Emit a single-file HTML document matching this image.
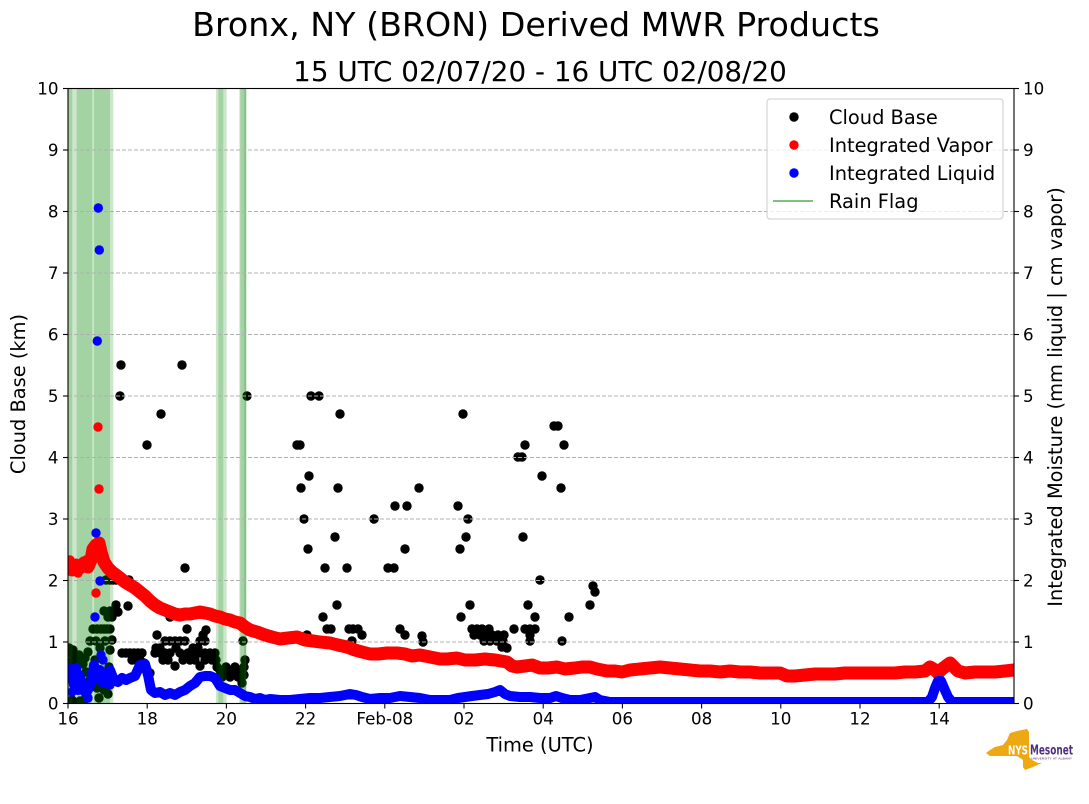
<!DOCTYPE html>
<html><head><meta charset="utf-8"><style>html,body{margin:0;padding:0;background:#fff}svg{display:block}</style></head>
<body>
<svg width="1089" height="804" viewBox="0 0 1089 804" xmlns="http://www.w3.org/2000/svg" font-family="'DejaVu Sans','Liberation Sans',sans-serif">
<defs><clipPath id="pa"><rect x="68" y="88.5" width="946" height="615"/></clipPath></defs>
<rect width="1089" height="804" fill="#fff"/>

<!-- Titles -->
<text x="536" y="36" text-anchor="middle" font-size="33.3" fill="#000">Bronx, NY (BRON) Derived MWR Products</text>
<text x="540" y="81" text-anchor="middle" font-size="27.8" fill="#000">15 UTC 02/07/20 - 16 UTC 02/08/20</text>

<g clip-path="url(#pa)">
<!-- Cloud base points -->
<g fill="#000">
<circle cx="69" cy="648" r="4.7"/><circle cx="71" cy="653" r="4.7"/><circle cx="73" cy="650" r="4.7"/><circle cx="75" cy="656" r="4.7"/><circle cx="77" cy="660" r="4.7"/><circle cx="79" cy="655" r="4.7"/><circle cx="81" cy="660" r="4.7"/><circle cx="70" cy="662" r="4.7"/><circle cx="74" cy="666" r="4.7"/><circle cx="83" cy="664" r="4.7"/><circle cx="85" cy="658" r="4.7"/><circle cx="88" cy="652" r="4.7"/>
<circle cx="72" cy="700" r="4.7"/><circle cx="76" cy="703" r="4.7"/><circle cx="80" cy="701" r="4.7"/><circle cx="84" cy="700" r="4.7"/>
<circle cx="90" cy="641" r="4.7"/><circle cx="93" cy="629" r="4.7"/><circle cx="97" cy="629" r="4.7"/><circle cx="101" cy="629" r="4.7"/><circle cx="104" cy="629" r="4.7"/><circle cx="107" cy="629" r="4.7"/><circle cx="110" cy="629" r="4.7"/><circle cx="96" cy="641" r="4.7"/><circle cx="105" cy="641" r="4.7"/>
<circle cx="104" cy="611" r="4.7"/><circle cx="108" cy="617" r="4.7"/><circle cx="112" cy="617" r="4.7"/><circle cx="110" cy="611" r="4.7"/>
<circle cx="106" cy="580" r="4.7"/><circle cx="110" cy="580" r="4.7"/><circle cx="113" cy="580" r="4.7"/>
<circle cx="97" cy="688" r="4.7"/><circle cx="100" cy="685" r="4.7"/><circle cx="104" cy="690" r="4.7"/><circle cx="108" cy="694" r="4.7"/><circle cx="99" cy="698" r="4.7"/><circle cx="86" cy="672" r="4.7"/><circle cx="90" cy="680" r="4.7"/><circle cx="95" cy="660" r="4.7"/><circle cx="100" cy="648" r="4.7"/><circle cx="110" cy="650" r="4.7"/><circle cx="112" cy="640" r="4.7"/><circle cx="109" cy="667" r="4.7"/>
<circle cx="116" cy="580" r="4.7"/><circle cx="120" cy="580" r="4.7"/><circle cx="125" cy="580" r="4.7"/><circle cx="129" cy="580" r="4.7"/>
<circle cx="118" cy="612" r="4.7"/><circle cx="116" cy="605" r="4.7"/><circle cx="128" cy="606" r="4.7"/>
<circle cx="120" cy="396" r="4.7"/><circle cx="121" cy="365" r="4.7"/><circle cx="147" cy="445" r="4.7"/><circle cx="161" cy="414" r="4.7"/><circle cx="182" cy="365" r="4.7"/><circle cx="185" cy="568" r="4.7"/>
<circle cx="122" cy="653" r="4.7"/><circle cx="126" cy="653" r="4.7"/><circle cx="130" cy="653" r="4.7"/><circle cx="134" cy="653" r="4.7"/><circle cx="138" cy="653" r="4.7"/><circle cx="142" cy="653" r="4.7"/>
<circle cx="132" cy="660" r="4.7"/><circle cx="136" cy="660" r="4.7"/><circle cx="140" cy="660" r="4.7"/><circle cx="144" cy="663" r="4.7"/><circle cx="143" cy="667" r="4.7"/><circle cx="147" cy="670" r="4.7"/><circle cx="150" cy="673" r="4.7"/>
<circle cx="157" cy="635" r="4.7"/><circle cx="170" cy="617" r="4.7"/>
<circle cx="165" cy="641" r="4.7"/><circle cx="170" cy="641" r="4.7"/><circle cx="175" cy="641" r="4.7"/><circle cx="180" cy="641" r="4.7"/><circle cx="185" cy="641" r="4.7"/><circle cx="200" cy="641" r="4.7"/><circle cx="205" cy="641" r="4.7"/>
<circle cx="156" cy="648" r="4.7"/><circle cx="160" cy="648" r="4.7"/><circle cx="176" cy="648" r="4.7"/><circle cx="193" cy="648" r="4.7"/><circle cx="198" cy="648" r="4.7"/>
<circle cx="155" cy="653" r="4.7"/><circle cx="160" cy="653" r="4.7"/><circle cx="165" cy="653" r="4.7"/><circle cx="170" cy="653" r="4.7"/><circle cx="180" cy="653" r="4.7"/><circle cx="188" cy="653" r="4.7"/><circle cx="192" cy="653" r="4.7"/><circle cx="200" cy="653" r="4.7"/><circle cx="205" cy="653" r="4.7"/><circle cx="210" cy="653" r="4.7"/><circle cx="215" cy="653" r="4.7"/>
<circle cx="163" cy="660" r="4.7"/><circle cx="168" cy="660" r="4.7"/><circle cx="183" cy="660" r="4.7"/><circle cx="190" cy="660" r="4.7"/><circle cx="195" cy="660" r="4.7"/><circle cx="205" cy="660" r="4.7"/><circle cx="212" cy="660" r="4.7"/><circle cx="216" cy="660" r="4.7"/>
<circle cx="175" cy="666" r="4.7"/><circle cx="200" cy="666" r="4.7"/>
<circle cx="187" cy="629" r="4.7"/><circle cx="203" cy="635" r="4.7"/><circle cx="206" cy="630" r="4.7"/>
<circle cx="217" cy="667" r="4.7"/><circle cx="220" cy="670" r="4.7"/><circle cx="223" cy="673" r="4.7"/><circle cx="226" cy="667" r="4.7"/><circle cx="229" cy="670" r="4.7"/><circle cx="232" cy="673" r="4.7"/><circle cx="235" cy="667" r="4.7"/><circle cx="238" cy="670" r="4.7"/><circle cx="241" cy="673" r="4.7"/><circle cx="222" cy="677" r="4.7"/><circle cx="230" cy="677" r="4.7"/><circle cx="238" cy="677" r="4.7"/><circle cx="244" cy="667" r="4.7"/><circle cx="244" cy="675" r="4.7"/><circle cx="242" cy="683" r="4.7"/><circle cx="243" cy="641" r="4.7"/><circle cx="245" cy="660" r="4.7"/>
<circle cx="247" cy="396" r="4.7"/>
<circle cx="297" cy="445" r="4.7"/><circle cx="300" cy="445" r="4.7"/><circle cx="301" cy="488" r="4.7"/><circle cx="304" cy="519" r="4.7"/><circle cx="308" cy="549" r="4.7"/><circle cx="309" cy="476" r="4.7"/><circle cx="311" cy="396" r="4.7"/><circle cx="319" cy="396" r="4.7"/><circle cx="340" cy="414" r="4.7"/><circle cx="338" cy="488" r="4.7"/><circle cx="335" cy="537" r="4.7"/><circle cx="325" cy="568" r="4.7"/><circle cx="347" cy="568" r="4.7"/><circle cx="337" cy="605" r="4.7"/><circle cx="323" cy="617" r="4.7"/><circle cx="327" cy="629" r="4.7"/><circle cx="331" cy="629" r="4.7"/><circle cx="349" cy="629" r="4.7"/><circle cx="353" cy="629" r="4.7"/><circle cx="358" cy="629" r="4.7"/><circle cx="362" cy="635" r="4.7"/><circle cx="352" cy="641" r="4.7"/><circle cx="307" cy="635" r="4.7"/>
<circle cx="374" cy="519" r="4.7"/><circle cx="388" cy="568" r="4.7"/><circle cx="394" cy="568" r="4.7"/><circle cx="395" cy="506" r="4.7"/><circle cx="407" cy="506" r="4.7"/><circle cx="405" cy="549" r="4.7"/><circle cx="419" cy="488" r="4.7"/><circle cx="400" cy="629" r="4.7"/><circle cx="405" cy="635" r="4.7"/><circle cx="422" cy="636" r="4.7"/><circle cx="423" cy="642" r="4.7"/>
<circle cx="463" cy="414" r="4.7"/><circle cx="458" cy="506" r="4.7"/><circle cx="468" cy="519" r="4.7"/><circle cx="466" cy="537" r="4.7"/><circle cx="460" cy="549" r="4.7"/><circle cx="470" cy="605" r="4.7"/><circle cx="461" cy="617" r="4.7"/>
<circle cx="472" cy="629" r="4.7"/><circle cx="477" cy="629" r="4.7"/><circle cx="482" cy="629" r="4.7"/><circle cx="489" cy="629" r="4.7"/><circle cx="474" cy="635" r="4.7"/><circle cx="480" cy="635" r="4.7"/><circle cx="486" cy="635" r="4.7"/><circle cx="492" cy="635" r="4.7"/><circle cx="498" cy="635" r="4.7"/><circle cx="504" cy="635" r="4.7"/><circle cx="484" cy="641" r="4.7"/><circle cx="490" cy="641" r="4.7"/><circle cx="497" cy="641" r="4.7"/><circle cx="503" cy="641" r="4.7"/><circle cx="507" cy="648" r="4.7"/><circle cx="502" cy="647" r="4.7"/>
<circle cx="514" cy="629" r="4.7"/><circle cx="525" cy="629" r="4.7"/><circle cx="530" cy="629" r="4.7"/><circle cx="535" cy="629" r="4.7"/><circle cx="530" cy="635" r="4.7"/><circle cx="530" cy="641" r="4.7"/>
<circle cx="518" cy="457" r="4.7"/><circle cx="522" cy="457" r="4.7"/><circle cx="525" cy="445" r="4.7"/><circle cx="523" cy="537" r="4.7"/><circle cx="542" cy="476" r="4.7"/><circle cx="540" cy="580" r="4.7"/><circle cx="528" cy="605" r="4.7"/><circle cx="535" cy="617" r="4.7"/><circle cx="554" cy="426" r="4.7"/><circle cx="558" cy="426" r="4.7"/><circle cx="564" cy="445" r="4.7"/><circle cx="561" cy="488" r="4.7"/><circle cx="569" cy="617" r="4.7"/><circle cx="562" cy="641" r="4.7"/><circle cx="590" cy="605" r="4.7"/><circle cx="593" cy="586" r="4.7"/><circle cx="595" cy="592" r="4.7"/>
</g>

<!-- Rain flag spans -->
<g fill="rgb(0,128,0)" fill-opacity="0.2">
<rect x="68" y="88.5" width="45.3" height="615"/>
<rect x="68" y="88.5" width="4.3" height="615"/>
<rect x="76.7" y="88.5" width="15.6" height="615"/>
<rect x="94" y="88.5" width="16" height="615"/>
<rect x="216" y="88.5" width="10.7" height="615"/>
<rect x="218.3" y="88.5" width="5" height="615"/>
<rect x="239.3" y="88.5" width="7.4" height="615"/>
<rect x="240.3" y="88.5" width="5.7" height="615"/>
<rect x="244.3" y="88.5" width="1.7" height="615"/>
</g>

<!-- Grid -->
<g stroke="#b0b0b0" stroke-width="1" stroke-dasharray="4,2">
<line x1="68" y1="642" x2="1014" y2="642"/><line x1="68" y1="580.5" x2="1014" y2="580.5"/><line x1="68" y1="519" x2="1014" y2="519"/><line x1="68" y1="457.5" x2="1014" y2="457.5"/><line x1="68" y1="396" x2="1014" y2="396"/><line x1="68" y1="334.5" x2="1014" y2="334.5"/><line x1="68" y1="273" x2="1014" y2="273"/><line x1="68" y1="211.5" x2="1014" y2="211.5"/><line x1="68" y1="150" x2="1014" y2="150"/>
</g>

<!-- Integrated vapor -->
<polyline fill="none" stroke="#ff0000" stroke-width="13" stroke-linejoin="round" stroke-linecap="round" points="68,566 72,570 76,565 80,568 84,563 88,567 91,560 93,549 96,545 99,543 101,552 104,562 108,568 112,572 116,575 120,578 125,582 130,585 135,588 140,592 145,596 150,601 155,605 160,608 165,610 170,612 175,614 180,615 185,614 190,614 195,613 200,612 205,613 210,614 215,616 220,617 225,619 230,620 235,622 240,623 245,627 250,630 257,632 265,635 272,637 280,639 288,638 297,637 305,640 313,641 320,642 330,643 338,645 347,647 355,650 362,652 370,654 378,654 387,653 397,653 405,654 412,656 420,655 430,657 440,659 447,659 457,658 465,660 475,660 485,659 495,660 507,662 512,666 517,667 525,666 532,665 540,668 548,668 557,667 565,669 575,668 582,667 590,667 597,669 607,671 615,671 622,672 630,670 640,669 650,668 660,667 670,668 680,669 690,670 700,671 710,671 720,672 730,671 740,672 750,672 760,673 770,673 780,673 787,676 795,676 805,675 815,674 825,674 835,674 845,673 855,673 865,673 875,673 885,673 895,673 905,672 915,672 925,671 930,667 935,670 938,673 942,669 946,666 950,663 954,667 958,671 965,673 975,672 985,672 995,672 1005,671 1014,670"/>
<g fill="#ff0000">
<circle cx="98" cy="427" r="4.7"/><circle cx="99" cy="489" r="4.7"/><circle cx="96" cy="593" r="4.7"/>
<circle cx="70" cy="560" r="4.7"/><circle cx="78" cy="573" r="4.7"/><circle cx="86" cy="560" r="4.7"/>
</g>

<!-- Integrated liquid -->
<polyline fill="none" stroke="#0000ff" stroke-width="10" stroke-linejoin="round" stroke-linecap="round" points="68,668 70,678 72,672 74,685 76,668 78,690 80,676 83,690 86,693 89,688 92,680 94,665 97,678 100,670 103,683 106,680 110,670 114,680 118,682 122,678 126,680 130,678 135,676 140,665 145,664 148,675 151,690 155,693 160,692 165,695 170,693 175,695 180,692 185,690 190,686 195,683 200,677 205,676 210,676 215,678 220,686 225,688 230,690 235,690 240,693 245,696 250,697 255,699 260,698 265,700 270,699 280,700 290,700 300,699 310,698 320,698 330,697 340,696 350,694 356,695 362,697 370,699 380,698 390,698 400,696 410,697 420,698 430,700 440,700 450,700 458,698 465,697 472,696 480,695 488,694 495,692 500,690 505,694 510,696 520,697 530,697 540,698 550,698 556,696 562,698 570,700 580,700 590,698 595,697 600,700 610,702 700,702 800,702 928,702 932,697 935,688 938,681 941,681 944,688 948,697 952,702 1014,702"/>
<g fill="#0000ff">
<circle cx="98.3" cy="208" r="4.7"/><circle cx="99.3" cy="250" r="4.7"/><circle cx="97.3" cy="341" r="4.7"/><circle cx="96" cy="533" r="4.7"/><circle cx="100" cy="581" r="4.7"/><circle cx="95" cy="617" r="4.7"/><circle cx="101" cy="655" r="4.7"/><circle cx="103" cy="660" r="4.7"/>
<circle cx="72" cy="692" r="4.7"/><circle cx="82" cy="682" r="4.7"/><circle cx="88" cy="698" r="4.7"/><circle cx="110" cy="685" r="4.7"/>
</g>
</g>

<!-- Axes frame -->
<rect x="68" y="88.5" width="946" height="615" fill="none" stroke="#000" stroke-width="1.1"/>

<!-- Ticks -->
<g stroke="#000" stroke-width="1.1">
<line x1="63" y1="703.5" x2="68" y2="703.5"/><line x1="63" y1="642" x2="68" y2="642"/><line x1="63" y1="580.5" x2="68" y2="580.5"/><line x1="63" y1="519" x2="68" y2="519"/><line x1="63" y1="457.5" x2="68" y2="457.5"/><line x1="63" y1="396" x2="68" y2="396"/><line x1="63" y1="334.5" x2="68" y2="334.5"/><line x1="63" y1="273" x2="68" y2="273"/><line x1="63" y1="211.5" x2="68" y2="211.5"/><line x1="63" y1="150" x2="68" y2="150"/><line x1="63" y1="88.5" x2="68" y2="88.5"/>
<line x1="1014" y1="703.5" x2="1019" y2="703.5"/><line x1="1014" y1="642" x2="1019" y2="642"/><line x1="1014" y1="580.5" x2="1019" y2="580.5"/><line x1="1014" y1="519" x2="1019" y2="519"/><line x1="1014" y1="457.5" x2="1019" y2="457.5"/><line x1="1014" y1="396" x2="1019" y2="396"/><line x1="1014" y1="334.5" x2="1019" y2="334.5"/><line x1="1014" y1="273" x2="1019" y2="273"/><line x1="1014" y1="211.5" x2="1019" y2="211.5"/><line x1="1014" y1="150" x2="1019" y2="150"/><line x1="1014" y1="88.5" x2="1019" y2="88.5"/>
<line x1="68" y1="703.5" x2="68" y2="708.5"/><line x1="147.2" y1="703.5" x2="147.2" y2="708.5"/><line x1="226.4" y1="703.5" x2="226.4" y2="708.5"/><line x1="305.6" y1="703.5" x2="305.6" y2="708.5"/><line x1="384.8" y1="703.5" x2="384.8" y2="708.5"/><line x1="464" y1="703.5" x2="464" y2="708.5"/><line x1="543.2" y1="703.5" x2="543.2" y2="708.5"/><line x1="622.4" y1="703.5" x2="622.4" y2="708.5"/><line x1="701.6" y1="703.5" x2="701.6" y2="708.5"/><line x1="780.8" y1="703.5" x2="780.8" y2="708.5"/><line x1="860" y1="703.5" x2="860" y2="708.5"/><line x1="939.2" y1="703.5" x2="939.2" y2="708.5"/>
</g>

<!-- Tick labels -->
<g font-size="16.7" fill="#000" text-anchor="end">
<text x="58.5" y="709.5">0</text><text x="58.5" y="648">1</text><text x="58.5" y="586.5">2</text><text x="58.5" y="525">3</text><text x="58.5" y="463.5">4</text><text x="58.5" y="402">5</text><text x="58.5" y="340.5">6</text><text x="58.5" y="279">7</text><text x="58.5" y="217.5">8</text><text x="58.5" y="156">9</text><text x="58.5" y="94.5">10</text>
</g>
<g font-size="16.7" fill="#000" text-anchor="start">
<text x="1023" y="709.5">0</text><text x="1023" y="648">1</text><text x="1023" y="586.5">2</text><text x="1023" y="525">3</text><text x="1023" y="463.5">4</text><text x="1023" y="402">5</text><text x="1023" y="340.5">6</text><text x="1023" y="279">7</text><text x="1023" y="217.5">8</text><text x="1023" y="156">9</text><text x="1023" y="94.5">10</text>
</g>
<g font-size="16.7" fill="#000" text-anchor="middle">
<text x="68" y="724.5">16</text><text x="147.2" y="724.5">18</text><text x="226.4" y="724.5">20</text><text x="305.6" y="724.5">22</text><text x="384.8" y="724.5">Feb-08</text><text x="464" y="724.5">02</text><text x="543.2" y="724.5">04</text><text x="622.4" y="724.5">06</text><text x="701.6" y="724.5">08</text><text x="780.8" y="724.5">10</text><text x="860" y="724.5">12</text><text x="939.2" y="724.5">14</text>
</g>

<!-- Axis labels -->
<text x="540" y="751.5" text-anchor="middle" font-size="19.4" fill="#000">Time (UTC)</text>
<text transform="translate(25,394) rotate(-90)" text-anchor="middle" font-size="19.4" fill="#000">Cloud Base (km)</text>
<text transform="translate(1062,397) rotate(-90)" text-anchor="middle" font-size="19.4" fill="#000">Integrated Moisture (mm liquid | cm vapor)</text>

<!-- Legend -->
<rect x="767" y="99" width="236" height="120" rx="3" fill="#fff" fill-opacity="0.8" stroke="#cccccc" stroke-width="1"/>
<circle cx="794" cy="117" r="4.7" fill="#000"/>
<circle cx="794" cy="145" r="4.7" fill="#ff0000"/>
<circle cx="794" cy="173" r="4.7" fill="#0000ff"/>
<line x1="773" y1="201" x2="813" y2="201" stroke="#80c080" stroke-width="2"/>
<g font-size="19.4" fill="#000">
<text x="829" y="124">Cloud Base</text>
<text x="829" y="152">Integrated Vapor</text>
<text x="829" y="180">Integrated Liquid</text>
<text x="829" y="208">Rain Flag</text>
</g>

<!-- Logo -->
<path d="M986,753 L990,750 L995,747 L1003,745 L1007,740 L1010,733 L1017,731 L1027,729 L1029,732 L1029,757 L1032,760 L1038,763 L1042,763 L1033,767 L1025,770 L1023,767 L1023,760 L1017,756 L990,756 Z" fill="#eda812"/>
<text x="1008" y="754.5" font-size="12" font-weight="bold" fill="#fff" textLength="20" lengthAdjust="spacingAndGlyphs">NYS</text>
<text x="1030" y="754.5" font-size="13" font-weight="bold" fill="#4f2d7f" textLength="43" lengthAdjust="spacingAndGlyphs">Mesonet</text>
<text x="1031" y="759.5" font-size="3" fill="#4f2d7f" textLength="41" lengthAdjust="spacingAndGlyphs">UNIVERSITY AT ALBANY</text>
</svg>
</body></html>
